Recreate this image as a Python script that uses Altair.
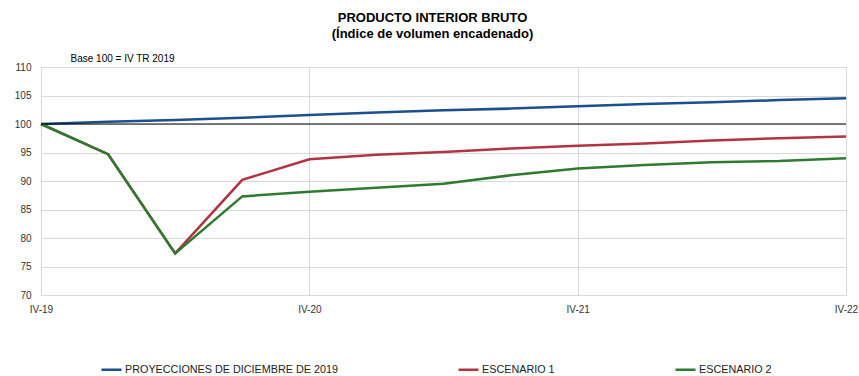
import altair as alt
import pandas as pd

quarters = ["IV-19", "I-20", "II-20", "III-20", "IV-20", "I-21", "II-21", "III-21",
            "IV-21", "I-22", "II-22", "III-22", "IV-22"]
series_names = ["PROYECCIONES DE DICIEMBRE DE 2019", "ESCENARIO 1", "ESCENARIO 2"]
proyecciones = [100.0, 100.4, 100.7, 101.1, 101.6, 102.0, 102.4, 102.7, 103.1, 103.5, 103.8, 104.2, 104.5]
escenario1 = [100.0, 94.7, 77.3, 90.2, 93.8, 94.6, 95.1, 95.7, 96.2, 96.6, 97.1, 97.5, 97.8]
escenario2 = [100.0, 94.7, 77.3, 87.3, 88.1, 88.8, 89.5, 91.0, 92.2, 92.8, 93.3, 93.5, 94.0]
colors = ["#1B4F8E", "#B03441", "#2E7B30"]
tick_quarters = ["IV-19", "IV-20", "IV-21", "IV-22"]
y_ticks = [70, 75, 80, 85, 90, 95, 100, 105, 110]
base_value = [100]

rows = []
for name, vals in zip(series_names, [proyecciones, escenario1, escenario2]):
    for i, (q, v) in enumerate(zip(quarters, vals)):
        rows.append({"quarter": q, "serie": name, "valor": v, "orden": i})
df = pd.DataFrame(rows)

FONT = "Liberation Sans"

y_scale = alt.Scale(domain=[70, 110], nice=False, zero=False)
y_axis = alt.Axis(values=y_ticks, title="Base 100 = IV TR 2019",
                  titleAngle=0, titleX=29, titleY=-4, titleAlign="left",
                  titleFontSize=10, titleFontWeight="normal", titleColor="#000000",
                  titleFont=FONT, labelOverlap=False,
                  grid=True, gridColor="#D9D9D9", ticks=False, domain=False,
                  labelPadding=10, labelFontSize=10, labelColor="#333333",
                  labelFont=FONT)

x_enc = alt.X("quarter:O", sort=quarters,
              scale=alt.Scale(type="point", padding=0),
              axis=alt.Axis(values=tick_quarters, title=None, labelAngle=0,
                            grid=True, gridColor="#D9D9D9", ticks=False,
                            domainColor="#D9D9D9", labelPadding=9,
                            labelFontSize=10, labelColor="#333333", labelFont=FONT))

rule = alt.Chart(pd.DataFrame({"valor": base_value})).mark_rule(
    color="#000000", strokeWidth=1.2).encode(y=alt.Y("valor:Q", scale=y_scale, axis=y_axis))

lines = alt.Chart(df).mark_line(strokeWidth=2.5).encode(
    x=x_enc,
    y=alt.Y("valor:Q", scale=y_scale, axis=y_axis),
    color=alt.Color("serie:N", sort=series_names,
                    scale=alt.Scale(domain=series_names, range=colors),
                    legend=alt.Legend(title=None, orient="none", direction="horizontal",
                                      legendX=59, legendY=291,
                                      symbolType="stroke", symbolSize=400,
                                      symbolStrokeWidth=2.5, columnPadding=115,
                                      labelOffset=2,
                                      labelFontSize=10.8, labelColor="#222222",
                                      labelFont=FONT, labelLimit=400)),
    order="orden:Q",
)

chart = alt.layer(lines, rule).properties(
    width=805, height=228,
    title=alt.TitleParams(text="PRODUCTO INTERIOR BRUTO",
                          subtitle="(Índice de volumen encadenado)",
                          font=FONT, fontSize=13, fontWeight="bold", color="#000000",
                          subtitleFont=FONT, subtitleFontSize=13, subtitleFontWeight="bold",
                          subtitleColor="#000000", subtitlePadding=3,
                          anchor="middle", dx=-11, offset=12),
    autosize=alt.AutoSizeParams(type="none"),
    padding={"left": 41, "top": 67, "right": 13, "bottom": 81},
).configure_view(stroke="#D9D9D9").configure(background="#FFFFFF")

chart.save("out.html", embed_options={"renderer": "svg", "actions": False})
